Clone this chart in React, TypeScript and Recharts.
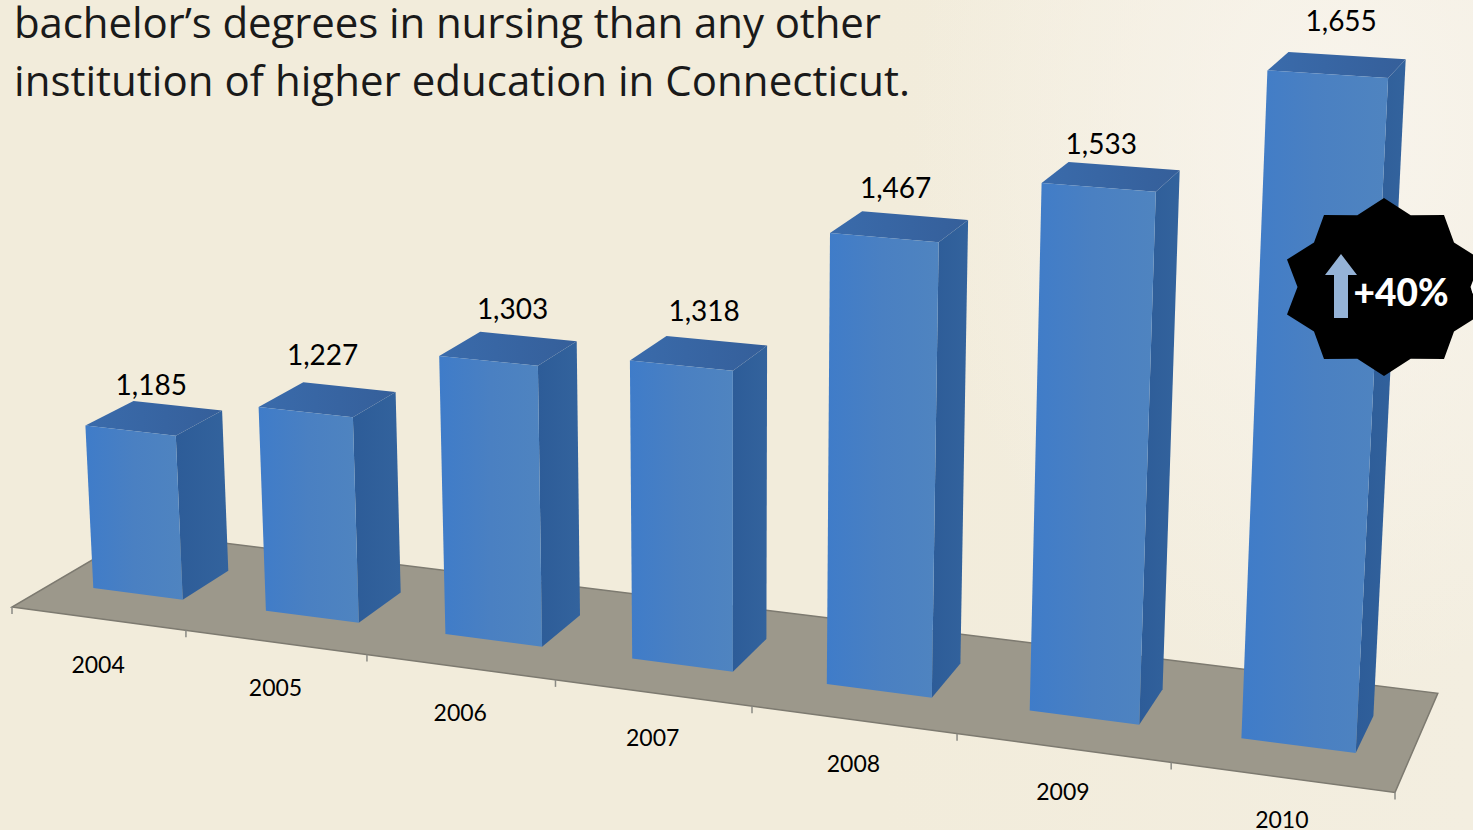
import { BarChart, Bar, XAxis, YAxis, LabelList } from 'recharts'

const years = ['2004', '2005', '2006', '2007', '2008', '2009', '2010']
const degrees = [1185, 1227, 1303, 1318, 1467, 1533, 1655]
const headingLines = ['bachelor’s degrees in nursing than any other', 'institution of higher education in Connecticut.']
const badgeText = '+40%'

const data = years.map((year, i) => ({ year, degrees: degrees[i] }))

const W = 1473
const H = 830
const M = { top: 20, right: 40, bottom: 10, left: 40 }
const X_AXIS_H = 40
const PLOT_W = W - M.left - M.right
const PLOT_H = H - M.top - M.bottom - X_AXIS_H
const BAND = PLOT_W / years.length
const Y_MIN = 1000
const Y_MAX = 1700
const DEPTH = 0.19 // half depth of a bar, in floor units

// the value labels were placed by hand in the original slide
const LABEL_NUDGE = [
  [-3, 1],
  [-5, -9],
  [4, -2],
  [5, -3],
  [-4, 3],
  [-10, 10],
  [4, 1],
]
const HEADING_WIDTHS = [867, 896]

// camera for the fake 3d view: u = category units, d = floor depth 0..1, h = value above axis min
function project(u: number, d: number, h: number) {
  const w = 1 - 0.01955 * u + 0.0693 * d - 6.72e-5 * h
  return {
    x: (170.3 * u + 136.6 * d - 0.0494 * h + 12) / w,
    y: (11 * u - 37.5 * d - 0.9218 * h + 607) / w,
  }
}

const toU = (px: number) => (px - M.left) / BAND
const toH = (height: number) => (height / PLOT_H) * (Y_MAX - Y_MIN)
const pts = (list: { x: number; y: number }[]) => list.map((p) => `${p.x.toFixed(1)},${p.y.toFixed(1)}`).join(' ')

function Bar3D(props: any) {
  const { x, width, height } = props
  const u0 = toU(x)
  const u1 = toU(x + width)
  const h = toH(height)
  const d0 = 0.5 - DEPTH
  const d1 = 0.5 + DEPTH
  const front = [project(u0, d0, h), project(u1, d0, h), project(u1, d0, 0), project(u0, d0, 0)]
  const side = [project(u1, d0, h), project(u1, d1, h), project(u1, d1, 0), project(u1, d0, 0)]
  const top = [project(u0, d0, h), project(u0, d1, h), project(u1, d1, h), project(u1, d0, h)]
  return (
    <g>
      <polygon points={pts(side)} fill="url(#sideFill)" />
      <polygon points={pts(top)} fill="url(#topFill)" />
      <polygon points={pts(front)} fill="url(#frontFill)" />
    </g>
  )
}

function YearTick(props: any) {
  const { x, payload } = props
  const u = toU(x)
  const p = project(u, 0, 0)
  return (
    <text x={p.x} y={p.y + 46 - u * 0.6} textAnchor="middle" dominantBaseline="central" fontFamily="Lato" fontSize={23} fill="#000">
      {payload.value}
    </text>
  )
}

function ValueLabel(props: any) {
  const { x, width, height, value, index } = props
  const u = toU(x + width / 2)
  const p = project(u, 0.5, toH(height))
  const [dx, dy] = LABEL_NUDGE[index] ?? [0, 0]
  return (
    <text x={p.x + dx} y={p.y - 34 - (u * 11) / 6 + dy} textAnchor="middle" dominantBaseline="central" fontFamily="Lato" fontSize={28} fill="#000">
      {Number(value).toLocaleString('en-US')}
    </text>
  )
}

function Floor() {
  const corners = [project(0, 0, 0), project(7, 0, 0), project(7, 1, 0), project(0, 1, 0)]
  return (
    <g>
      <polygon points={pts(corners)} fill="#9c988b" stroke="#7d7a70" strokeWidth={1.5} />
      {[...years, ''].map((_, i) => {
        const p = project(i, 0, 0)
        return <line key={i} x1={p.x} y1={p.y} x2={p.x} y2={p.y + 7} stroke="#8a8a84" strokeWidth={1.5} />
      })}
    </g>
  )
}

function Badge() {
  const cx = 1384
  const cy = 287
  const star: { x: number; y: number }[] = []
  for (let i = 0; i < 20; i++) {
    const a = ((-90 + i * 18) * Math.PI) / 180
    const r = i % 2 ? 0.848 : 1
    star.push({ x: cx + 102 * r * Math.cos(a), y: cy + 89 * r * Math.sin(a) })
  }
  return (
    <g>
      <polygon points={pts(star)} fill="#000" />
      <polygon points="1341,254 1357,275 1348,275 1348,318 1334,318 1334,275 1325,275" fill="#95b3d7" />
      <text x={1401} y={291} textAnchor="middle" dominantBaseline="central" fontFamily="Lato" fontWeight={900} fontSize={37} fill="#fff">
        {badgeText}
      </text>
      <ellipse cx={1475} cy={288} rx={3.5} ry={7} fill="#fff" />
    </g>
  )
}

export default function App() {
  return (
    <div
      style={{
        position: 'absolute',
        left: 0,
        top: 0,
        width: W,
        height: H,
        overflow: 'hidden',
        background:
          'radial-gradient(ellipse 430px 560px at 1340px 130px, #f8f4ec 0%, rgba(248,244,236,0) 100%), linear-gradient(90deg, #f2ecdb 0%, #f2ecdb 60%, #f3eee0 100%)',
      }}
    >
      <BarChart width={W} height={H} data={data} margin={M} barCategoryGap="23.8%" style={{ position: 'absolute', left: 0, top: 0 }}>
        <defs>
          <linearGradient id="frontFill" x1="0" y1="0" x2="1" y2="0">
            <stop offset="0%" stopColor="#3f7cc9" />
            <stop offset="50%" stopColor="#4a80c2" />
            <stop offset="100%" stopColor="#4f84c0" />
          </linearGradient>
          <linearGradient id="sideFill" x1="0" y1="0" x2="1" y2="0">
            <stop offset="0%" stopColor="#2d5c98" />
            <stop offset="100%" stopColor="#33639d" />
          </linearGradient>
          <linearGradient id="topFill" x1="0" y1="0" x2="1" y2="0">
            <stop offset="0%" stopColor="#3a6bab" />
            <stop offset="100%" stopColor="#355f9a" />
          </linearGradient>
        </defs>
        <Floor />
        <XAxis dataKey="year" height={X_AXIS_H} axisLine={false} tickLine={false} tick={<YearTick />} interval={0} />
        <YAxis hide domain={[Y_MIN, Y_MAX]} />
        <Bar dataKey="degrees" shape={<Bar3D />} isAnimationActive={false}>
          <LabelList dataKey="degrees" content={<ValueLabel />} />
        </Bar>
      </BarChart>
      <svg width={W} height={H} style={{ position: 'absolute', left: 0, top: 0 }}>
        {headingLines.map((line, i) => (
          <text key={line} x={14} y={38 + i * 58} fontFamily="Open Sans" fontSize={42} fill="#1a1a1a" textLength={HEADING_WIDTHS[i]}>
            {line}
          </text>
        ))}
        <Badge />
      </svg>
    </div>
  )
}
